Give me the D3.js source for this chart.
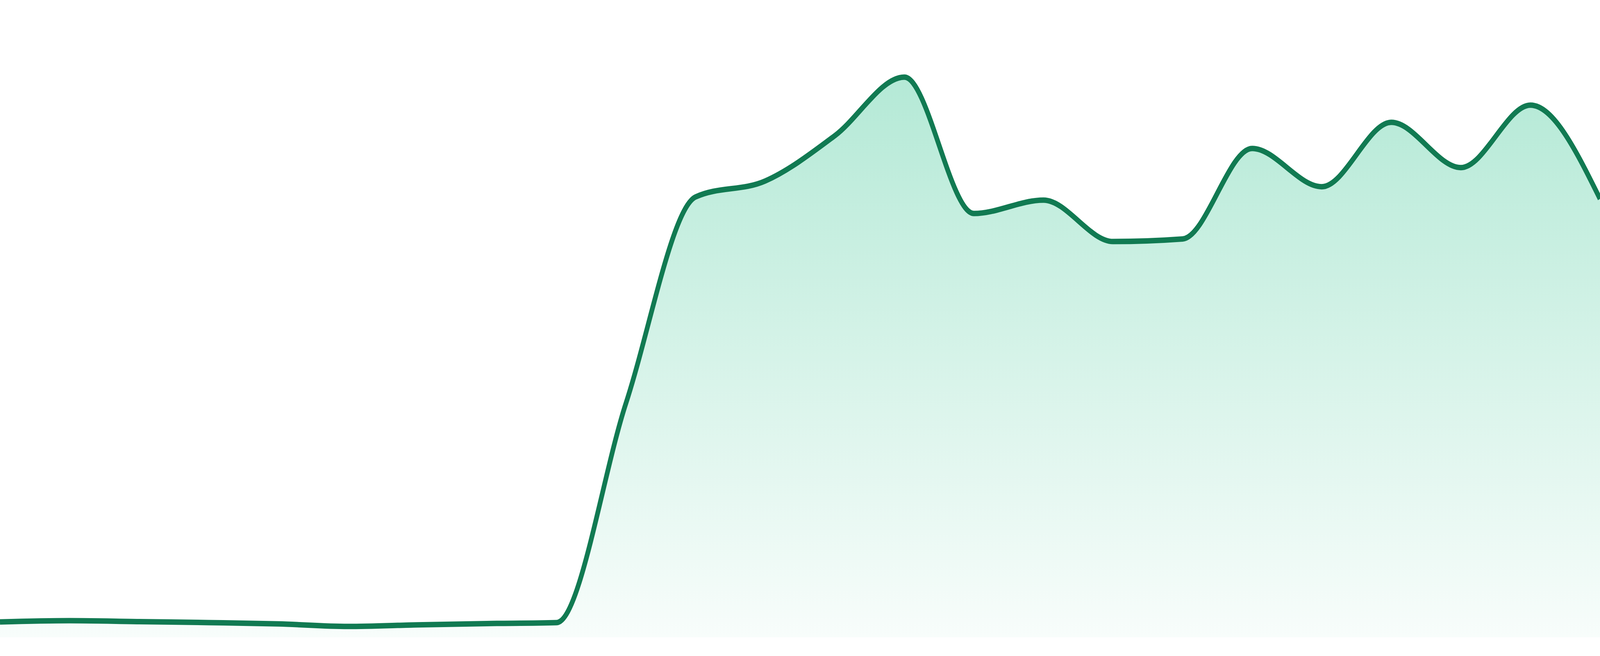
<!DOCTYPE html>
<html>
<head>
<meta charset="utf-8">
<script src="https://cdn.jsdelivr.net/npm/d3@7"></script>
<style>
  html, body { margin: 0; padding: 0; background: #fff; overflow: hidden; width: 100%; height: 100%; }
  #area-chart { width: 100vw; height: 100vh; }
  svg { display: block; width: 100%; height: 100%; }
</style>
</head>
<body>
<div id="area-chart"></div>
<script>
const days = ['1', '2', '3', '4', '5', '6', '7', '8', '9', '10', '11', '12',
  '13', '14', '15', '16', '17', '18', '19', '20', '21', '22', '23', '24'];

const values = [2.4, 2.6, 2.45, 2.3, 2.1, 1.7, 1.95, 2.15, 2.3, 36.8, 69.1, 71.6,
  78.7, 87.9, 66.5, 68.6, 62.1, 62.5, 76.7, 70.7, 80.8, 73.7, 83.5, 68.8];

const yDomain = [0, 100];

const areaChart = () => {
  const data = days.map((d, i) => ({ day: d, value: values[i] }));

  // drawn in a fixed 4800x1680 box, stretched to the window
  const width = 4800,
    height = 1680,
    bottom = 48;

  const svg = d3.select('#area-chart').append('svg')
    .attr('viewBox', `0 0 ${width} ${height}`)
    .attr('preserveAspectRatio', 'none');

  const x_scale = d3.scalePoint()
    .domain(days)
    .range([0, width]);

  const y_scale = d3.scaleLinear()
    .domain(yDomain)
    .range([height - bottom, 0]);

  const grad = svg.append('defs').append('linearGradient')
    .attr('id', 'fill-grad')
    .attr('gradientUnits', 'userSpaceOnUse')
    .attr('x1', 0).attr('x2', 0)
    .attr('y1', y_scale(yDomain[1] * 0.9))
    .attr('y2', y_scale(0));
  grad.append('stop').attr('offset', '0%').attr('stop-color', '#10b97c').attr('stop-opacity', 0.32);
  grad.append('stop').attr('offset', '100%').attr('stop-color', '#10b97c').attr('stop-opacity', 0.03);

  const curve = d3.curveMonotoneX;

  const area = d3.area()
    .x((d) => x_scale(d.day))
    .y0(y_scale(0))
    .y1((d) => y_scale(d.value))
    .curve(curve);

  const line = d3.line()
    .x((d) => x_scale(d.day))
    .y((d) => y_scale(d.value))
    .curve(curve);

  svg.append('path')
    .datum(data)
    .attr('class', 'area')
    .attr('fill', 'url(#fill-grad)')
    .attr('d', area);

  svg.append('path')
    .datum(data)
    .attr('class', 'line')
    .attr('fill', 'none')
    .attr('stroke', '#117a52')
    .attr('stroke-width', 14)
    .attr('stroke-linejoin', 'round')
    .attr('d', line);
};

areaChart();
</script>
</body>
</html>
